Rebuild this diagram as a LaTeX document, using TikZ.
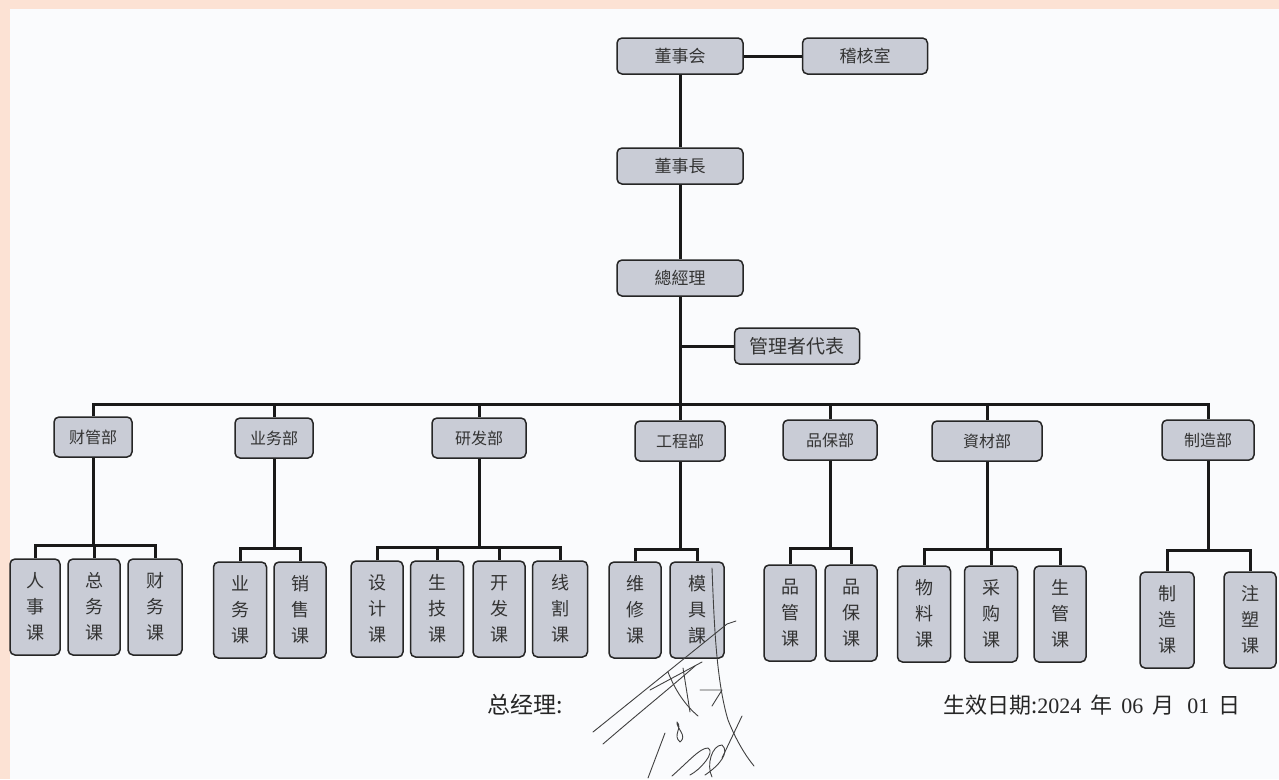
\documentclass[tikz,border=0pt]{standalone}
\usepackage{fontspec}
\setmainfont{Liberation Serif}
\newfontfamily\cjk{Noto Sans CJK SC}
\definecolor{boxfill}{HTML}{C9CCD6}
\definecolor{peach}{HTML}{FCE2D4}
\definecolor{paper}{HTML}{FAFBFD}
\definecolor{txt}{HTML}{333333}
\begin{document}
\begin{tikzpicture}[x=1pt,y=-1pt,
 box/.style={draw=black!85, line width=1.5pt, fill=boxfill, rounded corners=5pt, inner sep=0pt, text=txt},
 topbox/.style={box, minimum width=126pt, minimum height=36pt, font=\cjk\fontsize{17}{20}\selectfont},
 deptbox/.style={box, minimum height=40pt, font=\cjk\fontsize{16}{18}\selectfont},
 subbox/.style={box, minimum width=52pt, minimum height=96pt, align=center, font=\cjk\fontsize{18}{26}\selectfont},
 conn/.style={line width=3pt, black!90},
 sig/.style={line width=0.9pt, black!75, line cap=round, line join=round},
 foot/.style={inner sep=0pt, anchor=west, text=black!85}
]
\fill[peach] (0,0) rectangle (1279,779);
\fill[paper] (10,9) rectangle (1279,779);
\useasboundingbox (0,0) rectangle (1279,779);

% top
\node[topbox] (dsh) at (680,56) {董事会};
\node[topbox, minimum width=125pt] (jhs) at (865,56) {稽核室};
\node[topbox] (dsz) at (680,166) {董事長};
\node[topbox] (zjl) at (680,278) {總經理};
\node[topbox, minimum width=125pt, font=\cjk\fontsize{19}{22}\selectfont] (gldb) at (797,346) {管理者代表};

% departments
\node[deptbox, minimum width=78pt] (cgb) at (93,437) {财管部};
\node[deptbox, minimum width=78pt] (ywb) at (274,438) {业务部};
\node[deptbox, minimum width=94pt] (yfb) at (479,438) {研发部};
\node[deptbox, minimum width=90pt] (gcb) at (680,441) {工程部};
\node[deptbox, minimum width=94pt] (pbb) at (830,440) {品保部};
\node[deptbox, minimum width=110pt] (zcb) at (987,441) {資材部};
\node[deptbox, minimum width=92pt] (zzb) at (1208,440) {制造部};

% sections
\node[subbox, minimum width=50pt] (c1) at (35,607) {人\\事\\课};
\node[subbox] (c2) at (94,607) {总\\务\\课};
\node[subbox, minimum width=54pt] (c3) at (155,607) {财\\务\\课};

\node[subbox, minimum width=53pt] (y1) at (240,610) {业\\务\\课};
\node[subbox] (y2) at (300,610) {销\\售\\课};

\node[subbox] (r1) at (377,609) {设\\计\\课};
\node[subbox, minimum width=53pt] (r2) at (437,609) {生\\技\\课};
\node[subbox] (r3) at (499,609) {开\\发\\课};
\node[subbox, minimum width=55pt] (r4) at (560,609) {线\\割\\课};

\node[subbox] (g1) at (635,610) {维\\修\\课};
\node[subbox, minimum width=54pt] (g2) at (697,610) {模\\具\\課};

\node[subbox] (p1) at (790,613) {品\\管\\课};
\node[subbox] (p2) at (851,613) {品\\保\\课};

\node[subbox, minimum width=53pt] (m1) at (924,614) {物\\料\\课};
\node[subbox, minimum width=53pt] (m2) at (991,614) {采\\购\\课};
\node[subbox] (m3) at (1060,614) {生\\管\\课};

\node[subbox, minimum width=54pt] (z1) at (1167,620) {制\\造\\课};
\node[subbox] (z2) at (1250,620) {注\\塑\\课};

% top connectors
\draw[conn] (dsh) -- (jhs);
\draw[conn] (dsh) -- (dsz);
\draw[conn] (dsz) -- (zjl);
\coordinate (busM) at (680,404);
\draw[conn] (zjl.south) -- (busM);
\draw[conn] (zjl.south |- gldb.west) -- (gldb.west);

% main bus
\draw[conn] (cgb.north) |- (busM) -| (zzb.north);
\draw[conn] (ywb.north |- busM) -- (ywb.north);
\draw[conn] (yfb.north |- busM) -- (yfb.north);
\draw[conn] (gcb.north |- busM) -- (gcb.north);
\draw[conn] (pbb.north |- busM) -- (pbb.north);
\draw[conn] (zcb.north |- busM) -- (zcb.north);

% section buses
\coordinate (cgj) at (cgb.south |- 0,545);
\draw[conn] (cgb.south) -- (cgj);
\draw[conn] (c1.north) |- (cgj) -| (c3.north);
\draw[conn] (c2.north) -- (c2.north |- cgj);

\coordinate (ywj) at (ywb.south |- 0,548);
\draw[conn] (ywb.south) -- (ywj);
\draw[conn] (y1.north) |- (ywj) -| (y2.north);

\coordinate (yfj) at (yfb.south |- 0,547);
\draw[conn] (yfb.south) -- (yfj);
\draw[conn] (r1.north) |- (yfj) -| (r4.north);
\draw[conn] (r2.north) -- (r2.north |- yfj);
\draw[conn] (r3.north) -- (r3.north |- yfj);

\coordinate (gcj) at (gcb.south |- 0,549);
\draw[conn] (gcb.south) -- (gcj);
\draw[conn] (g1.north) |- (gcj) -| (g2.north);

\coordinate (pbj) at (pbb.south |- 0,548);
\draw[conn] (pbb.south) -- (pbj);
\draw[conn] (p1.north) |- (pbj) -| (p2.north);

\coordinate (zcj) at (zcb.south |- 0,549);
\draw[conn] (zcb.south) -- (zcj);
\draw[conn] (m1.north) |- (zcj) -| (m3.north);
\draw[conn] (m2.north) -- (m2.north |- zcj);

\coordinate (zzj) at (zzb.south |- 0,550);
\draw[conn] (zzb.south) -- (zzj);
\draw[conn] (z1.north) |- (zzj) -| (z2.north);

% footer
\node[foot, font=\cjk\fontsize{23}{26}\selectfont] (gm) at (487,705) {总经理:};
\node[foot, font=\fontsize{22}{26}\selectfont] (date) at (943,705) {{\cjk 生效日期:}2024\hspace{9pt}{\cjk 年}\hspace{9pt}06\hspace{9pt}{\cjk 月}\hspace{13pt}01\hspace{9pt}{\cjk 日}};

% signature
\draw[sig] (593,732) -- (727,624) -- (736,621);
\draw[sig] (603,744) .. controls (640,712) and (670,688) .. (695,666);
\draw[sig] (712,568) .. controls (714,620) and (716,680) .. (728,720) .. controls (736,740) and (745,755) .. (754,766);
\draw[sig] (650,690) -- (702,662);
\draw[sig] (668,672) .. controls (675,690) and (685,705) .. (698,716);
\draw[sig] (683,668) -- (690,712);
\draw[sig] (700,690) -- (722,690) -- (712,706);
\draw[sig] (665,733) -- (648,778);
\draw[sig] (677,722) .. controls (683,728) and (672,735) .. (680,742) .. controls (688,736) and (676,728) .. (677,722);
\draw[sig] (672,776) .. controls (690,760) and (700,748) .. (708,748) .. controls (716,752) and (700,770) .. (690,775);
\draw[sig] (705,775) .. controls (720,765) and (730,752) .. (722,745) .. controls (712,745) and (706,765) .. (712,777);
\draw[sig] (722,758) -- (742,716);
\end{tikzpicture}
\end{document}
